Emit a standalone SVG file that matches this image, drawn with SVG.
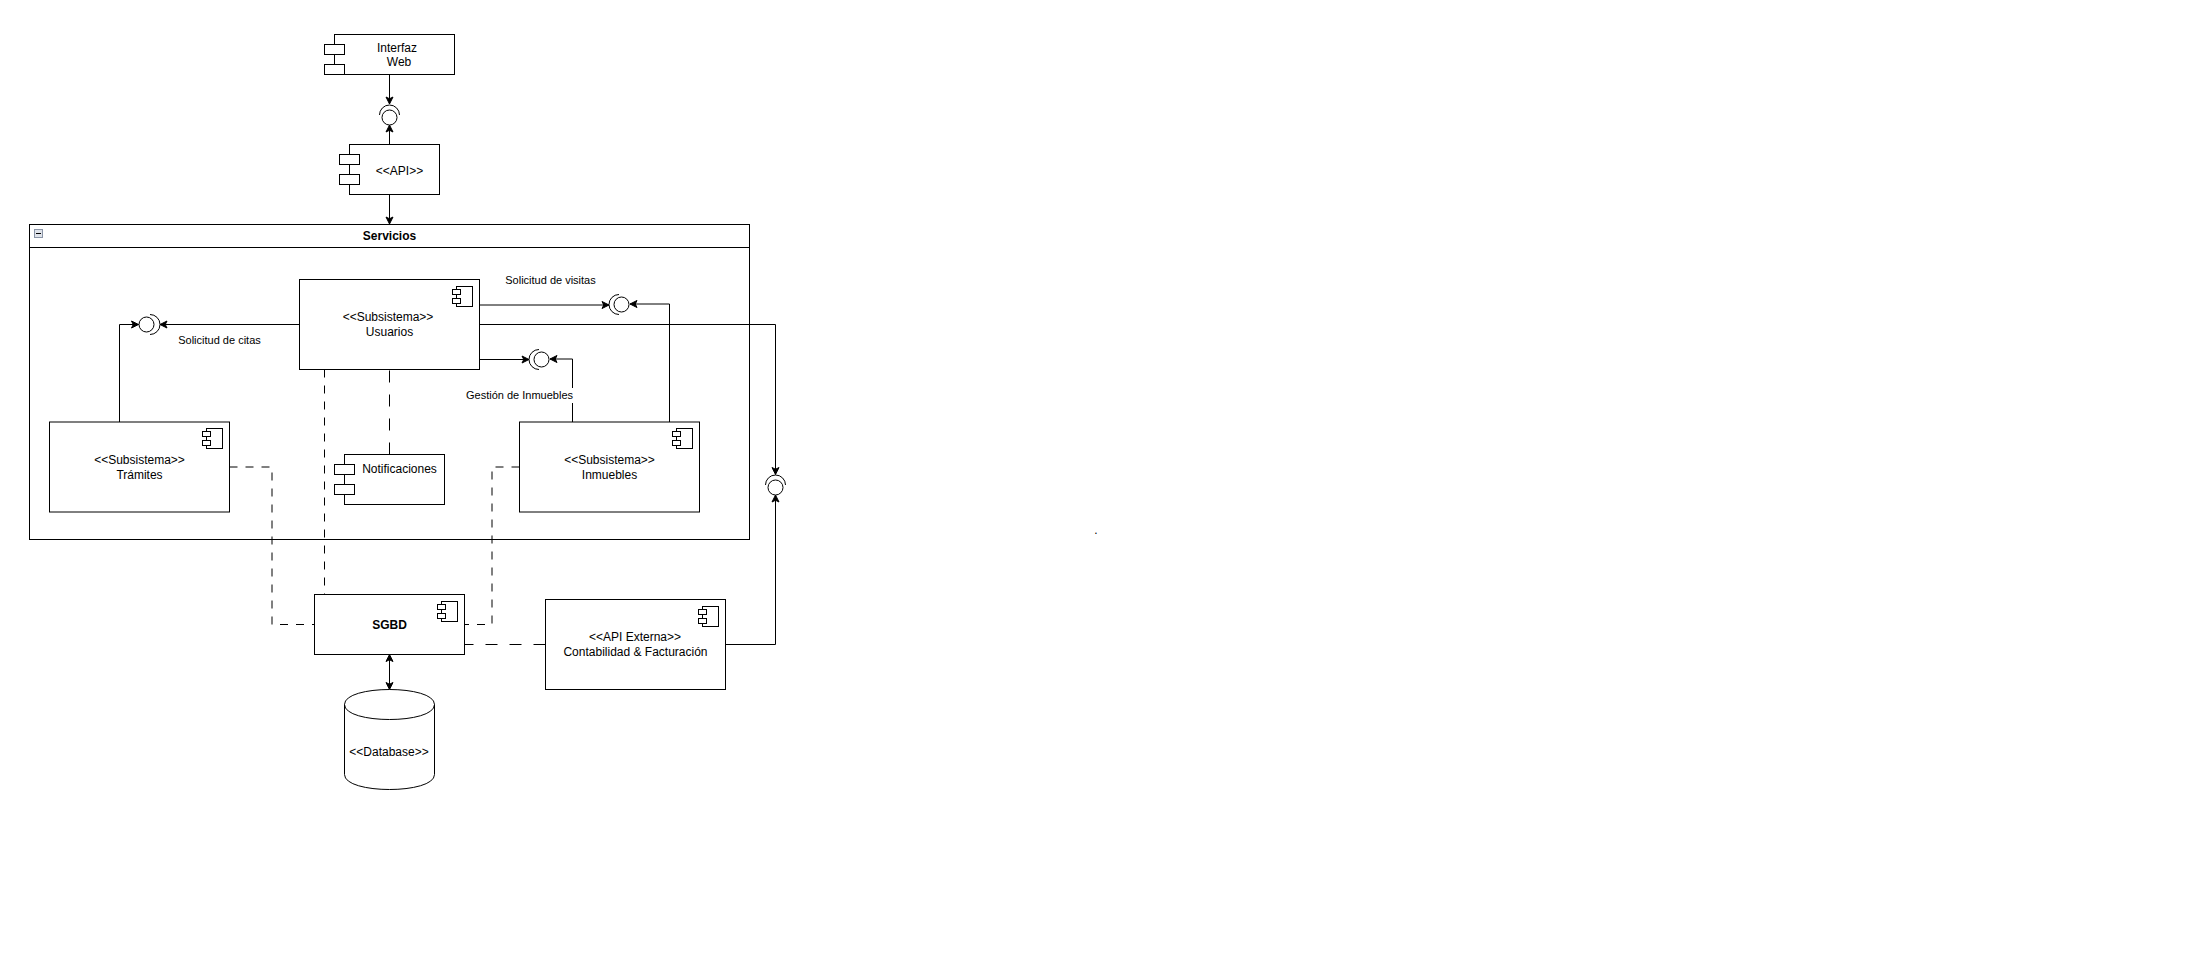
<svg xmlns="http://www.w3.org/2000/svg" width="2209" height="954" viewBox="0 0 2209 954">
<style>
.s{fill:#fff;stroke:#000;stroke-width:1}
.n{fill:none;stroke:#000;stroke-width:1}
.d{fill:none;stroke:#000;stroke-width:1;stroke-dasharray:8 8}
.e{fill:none;stroke:#000;stroke-width:1;stroke-dasharray:12 12}
.a{marker-end:url(#ah)}
text{font-family:"Liberation Sans",Arial,sans-serif;font-size:12px;fill:#000;text-anchor:middle}
.b{font-weight:bold}
.l{font-size:11px}
</style>
<defs>
<marker id="ah" markerUnits="userSpaceOnUse" markerWidth="10" markerHeight="10" refX="8" refY="5" orient="auto"><path d="M1,1.5 L8,5 L1,8.5 L2.75,5 Z" fill="#000" stroke="#000" stroke-width="1"/></marker>
<marker id="as" markerUnits="userSpaceOnUse" markerWidth="10" markerHeight="10" refX="8" refY="5" orient="auto-start-reverse"><path d="M1,1.5 L8,5 L1,8.5 L2.75,5 Z" fill="#000" stroke="#000" stroke-width="1"/></marker>
<g id="cicon"><rect class="s" x="4" y="0" width="16" height="20"/><rect class="s" x="0" y="3" width="8" height="5"/><rect class="s" x="0" y="12" width="8" height="5"/></g>
</defs>
<g id="connectors">
<path class="n a" d="M389.5,74.5V104"/>
<path class="n a" d="M389.5,144.5V125"/>
<path class="n a" d="M389.5,194.5V224"/>
<path class="n a" d="M299.5,324.5H160"/>
<path class="n a" d="M119.5,422V324.5H138.5"/>
<path class="n a" d="M479.5,305H609"/>
<path class="n a" d="M669.5,422V304H630"/>
<path class="n a" d="M479.5,359.5H529"/>
<path class="n a" d="M572.5,422V359H550"/>
<path class="n a" d="M479.5,324.5H775.5V474.5"/>
<path class="n a" d="M725.5,644.5H775.5V495"/>
<path class="n" d="M389.5,654.5V689.5" marker-start="url(#as)" marker-end="url(#as)"/>
<path class="e" d="M389.5,454.5V369.5"/>
<path class="d" d="M324.5,369.5V594.5"/>
<path class="d" d="M229.5,467H272V624.5H314.5"/>
<path class="d" d="M519.5,467H492V624.5H464.5"/>
<path class="e" d="M545.5,644.5H464.5"/>
</g>
<g id="servicios">
<rect x="29.5" y="224.5" width="720" height="315" fill="none" stroke="#000"/>
<path class="n" d="M29.5,247.5H749.5"/>
<rect x="34.5" y="229.5" width="8" height="8" fill="#dfe3ea" stroke="#8a94a6"/>
<path d="M36,233.5H41" stroke="#000" stroke-width="1"/>
<text class="b" x="389.5" y="240">Servicios</text>
</g>
<g id="interfaz-web">
<rect class="s" x="334.5" y="34.5" width="120" height="40"/>
<rect class="s" x="324.5" y="44.5" width="20" height="10"/>
<rect class="s" x="324.5" y="64.5" width="20" height="10"/>
<text x="397" y="52">Interfaz</text><text x="399" y="66">Web</text>
</g>
<g id="api">
<rect class="s" x="349.5" y="144.5" width="90" height="50"/>
<rect class="s" x="339.5" y="154.5" width="20" height="10"/>
<rect class="s" x="339.5" y="174.5" width="20" height="10"/>
<text x="399.5" y="175">&lt;&lt;API&gt;&gt;</text>
</g>
<g id="iface-top"><circle class="s" cx="389.5" cy="117.5" r="7.5"/><path class="n" d="M379.5,115A10,10 0 0 1 399.5,115"/></g>
<g id="iface-citas"><circle class="s" cx="146.5" cy="324.5" r="7.5"/><path class="n" d="M150,314.5A10,10 0 0 1 150,334.5"/></g>
<g id="iface-visitas"><circle class="s" cx="621.5" cy="304.5" r="7.5"/><path class="n" d="M619,294.5A10,10 0 0 0 619,314.5"/></g>
<g id="iface-inmuebles"><circle class="s" cx="541.5" cy="359.5" r="7.5"/><path class="n" d="M539,349.5A10,10 0 0 0 539,369.5"/></g>
<g id="iface-ext"><circle class="s" cx="775.5" cy="487.5" r="7.5"/><path class="n" d="M765.5,485A10,10 0 0 1 785.5,485"/></g>
<g id="usuarios">
<rect class="s" x="299.5" y="279.5" width="180" height="90"/>
<use href="#cicon" x="452.5" y="286.5"/>
<text x="388" y="321">&lt;&lt;Subsistema&gt;&gt;</text><text x="389.5" y="336">Usuarios</text>
</g>
<g id="tramites">
<rect class="s" x="49.5" y="422" width="180" height="90"/>
<use href="#cicon" x="202.5" y="428.5"/>
<text x="139.5" y="464">&lt;&lt;Subsistema&gt;&gt;</text><text x="139.5" y="479">Trámites</text>
</g>
<g id="inmuebles">
<rect class="s" x="519.5" y="422" width="180" height="90"/>
<use href="#cicon" x="672.5" y="428.5"/>
<text x="609.5" y="464">&lt;&lt;Subsistema&gt;&gt;</text><text x="609.5" y="479">Inmuebles</text>
</g>
<g id="notificaciones">
<rect class="s" x="344.5" y="454.5" width="100" height="50"/>
<rect class="s" x="334.5" y="464.5" width="20" height="10"/>
<rect class="s" x="334.5" y="484.5" width="20" height="10"/>
<text x="399.5" y="472.5">Notificaciones</text>
</g>
<g id="sgbd">
<rect class="s" x="314.5" y="594.5" width="150" height="60"/>
<use href="#cicon" x="437.5" y="601.5"/>
<text class="b" x="389.5" y="628.5">SGBD</text>
</g>
<g id="api-externa">
<rect class="s" x="545.5" y="599.5" width="180" height="90"/>
<use href="#cicon" x="698.5" y="606.5"/>
<text x="635" y="641">&lt;&lt;API Externa&gt;&gt;</text><text x="635.5" y="656">Contabilidad &amp; Facturación</text>
</g>
<g id="database">
<path class="s" d="M344.5,704.5C344.5,684.5 434.5,684.5 434.5,704.5V774.5C434.5,794.5 344.5,794.5 344.5,774.5Z"/>
<path class="n" d="M344.5,704.5C344.5,724.5 434.5,724.5 434.5,704.5"/>
<text x="389" y="756">&lt;&lt;Database&gt;&gt;</text>
</g>
<g id="labels">
<text class="l" x="219.5" y="344">Solicitud de citas</text>
<text class="l" x="550.5" y="284">Solicitud de visitas</text>
<rect x="466" y="388" width="107" height="15" fill="#fff"/>
<text class="l" x="519.5" y="399">Gestión de Inmuebles</text>
<text x="1096" y="534">.</text>
</g>
</svg>
